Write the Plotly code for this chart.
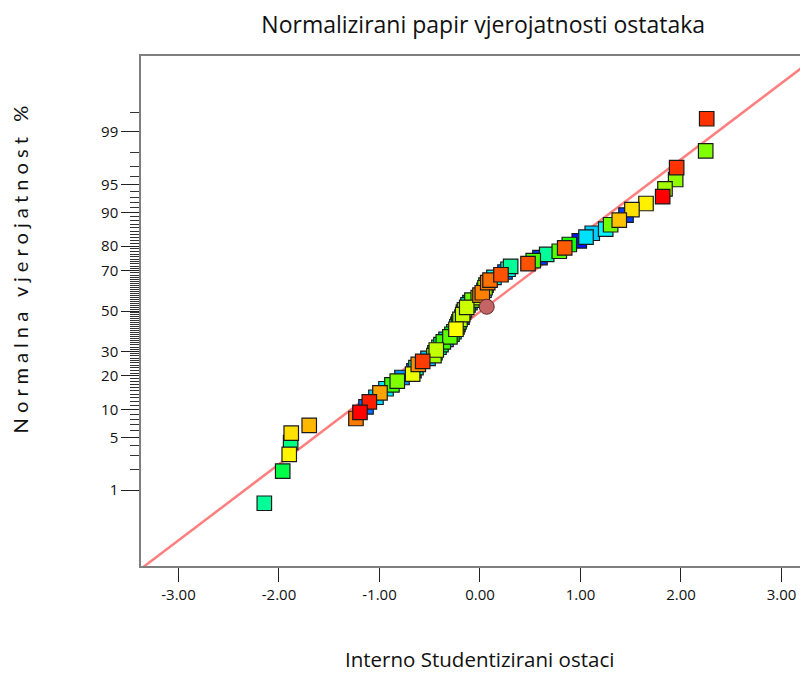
import numpy as np
import plotly.graph_objects as go
from statistics import NormalDist

# Internally studentized residuals, sorted ascending (rank order)
residuals = [
    -2.146, -1.963, -1.898, -1.884, -1.878, -1.699, -1.234, -1.194, -1.134, -1.101,
    -1.035, -0.995, -0.935, -0.876, -0.823, -0.776, -0.670, -0.657, -0.637, -0.614,
    -0.570, -0.517, -0.458, -0.448, -0.435, -0.408, -0.388, -0.365, -0.338, -0.299,
    -0.279, -0.259, -0.239, -0.229, -0.219, -0.209, -0.199, -0.179, -0.172, -0.164,
    -0.154, -0.132, -0.119, -0.100, -0.080, -0.017, 0.000, 0.023, 0.040, 0.050,
    0.060, 0.077, 0.100, 0.139, 0.209, 0.249, 0.279, 0.305, 0.478, 0.530,
    0.597, 0.664, 0.789, 0.843, 0.889, 0.988, 1.055, 1.117, 1.251, 1.300,
    1.386, 1.453, 1.512, 1.652, 1.818, 1.841, 1.947, 1.957, 2.246, 2.256,
]

# Colour value of each point (0 = blue ... 1 = red), same order as residuals
color_values = [
    0.35, 0.43, 0.76, 0.375, 0.78, 0.82, 0.88, 1.00, 0.11, 0.97,
    0.21, 0.84, 0.23, 0.56, 0.625, 0.14, 0.73, 0.09, 0.33, 0.86,
    0.94, 0.19, 0.66, 0.52, 0.69, 0.31, 0.41, 0.56, 0.20, 0.59,
    0.48, 0.34, 0.75, 0.27, 0.17, 0.53, 0.67, 0.08, 0.70, 0.39,
    0.66, 0.70, 0.31, 0.14, 0.61, 0.68, 0.865, 0.875, 0.24, 0.66,
    0.48, 0.875, 0.89, 0.26, 0.92, 0.10, 0.28, 0.35, 0.92, 0.57,
    0.05, 0.35, 0.58, 0.91, 0.52, 0.02, 0.22, 0.20, 0.24, 0.61,
    0.81, 0.06, 0.78, 0.765, 1.00, 0.66, 0.64, 0.95, 0.625, 0.95,
]

# highlighted point (residual, normal % probability)
highlight_residual = [0.067]
highlight_percent = [52.2]

# reference line: z = intercept + slope * residual
line_intercept = -0.01
line_slope = 0.99

major_percent = [1, 5, 10, 20, 30, 50, 70, 80, 90, 95, 99]
minor_percent = [p for p in range(2, 99) if p not in major_percent] + [99.5]

x_tickvals = [-3, -2, -1, 0, 1, 2, 3]
x_ticktext = ["-3.00", "-2.00", "-1.00", "0.00", "1.00", "2.00", "3.00"]

title_text = "Normalizirani papir vjerojatnosti ostataka"
x_title = "Interno Studentizirani ostaci"
y_title = "N o r m a l n a   v j e r o j a t n o s t   %"

nd = NormalDist()
n = len(residuals)
z_vals = np.array([nd.inv_cdf((i - 0.5) / n) for i in range(1, n + 1)])
res = np.array(residuals)
cv = np.array(color_values)
order = np.argsort(cv, kind="stable")  # cooler colours drawn first

colorscale = [[0.0, "#0000FF"], [0.25, "#00FFFF"], [0.5, "#00FF00"],
              [0.75, "#FFFF00"], [1.0, "#FF0000"]]

fig = go.Figure()

xr = [-3.373, 3.264]
yr = [-3.313, 3.313]
fig.add_trace(go.Scatter(
    x=xr, y=[line_intercept + line_slope * v for v in xr],
    mode="lines", line=dict(color="#FF7F7F", width=2.5),
    hoverinfo="skip", showlegend=False,
))

fig.add_trace(go.Scatter(
    x=res[order], y=z_vals[order], mode="markers",
    marker=dict(symbol="square", size=14.5, color=cv[order], colorscale=colorscale,
                cmin=0, cmax=1, line=dict(color="#1a1a1a", width=1.2)),
    showlegend=False,
))

fig.add_trace(go.Scatter(
    x=highlight_residual, y=[nd.inv_cdf(p / 100) for p in highlight_percent],
    mode="markers",
    marker=dict(symbol="circle", size=15, color="#C46464",
                line=dict(color="#5a2a2a", width=1)),
    showlegend=False,
))

title_font = "'Open Sans', 'Noto Sans', sans-serif"
tick_font = "'Open Sans', 'Noto Sans', sans-serif"
ytitle_font = "Lato, 'Open Sans', sans-serif"

# page body has an 8px margin: figure occupies page x 8..808, y 8..675
fig.update_layout(
    width=800, height=667,
    margin=dict(l=133, r=0, t=48, b=109, autoexpand=False),
    paper_bgcolor="white", plot_bgcolor="white",
    title=dict(text=title_text, xref="container", x=0.594, xanchor="center",
               yref="container", y=0.9745, yanchor="middle",
               font=dict(family=title_font, size=23, color="#111")),
    font=dict(family=tick_font, color="#111"),
    annotations=[
        dict(text=x_title, xref="paper", yref="paper", x=0.508, y=-0.183,
             xanchor="center", yanchor="middle", showarrow=False,
             font=dict(family=title_font, size=20.5, color="#111")),
        dict(text=y_title, xref="paper", yref="paper", x=-0.181, y=0.582,
             xanchor="center", yanchor="middle", showarrow=False, textangle=-90,
             font=dict(family=ytitle_font, size=20, color="#111")),
    ],
)

fig.update_xaxes(
    range=xr, tickmode="array", tickvals=x_tickvals, ticktext=x_ticktext,
    ticks="outside", ticklen=14, tickwidth=1, tickcolor="#222",
    showline=True, linecolor="#7f7f7f", linewidth=1.5, mirror=True,
    showgrid=False, zeroline=False, automargin=False,
    tickfont=dict(size=15, family=tick_font, color="#111"),
)

fig.update_yaxes(
    range=yr, tickmode="array",
    tickvals=[nd.inv_cdf(p / 100) for p in major_percent],
    ticktext=[str(p) for p in major_percent],
    ticks="outside", ticklen=18, tickwidth=1, tickcolor="#222",
    minor=dict(tickvals=[nd.inv_cdf(p / 100) for p in minor_percent],
               ticks="outside", ticklen=9, tickwidth=1, tickcolor="#333", showgrid=False),
    showline=True, linecolor="#7f7f7f", linewidth=1.5, mirror=False,
    showgrid=False, zeroline=False, automargin=False,
    tickfont=dict(size=15, family=tick_font, color="#111"),
)

fig.write_html("out.html")
